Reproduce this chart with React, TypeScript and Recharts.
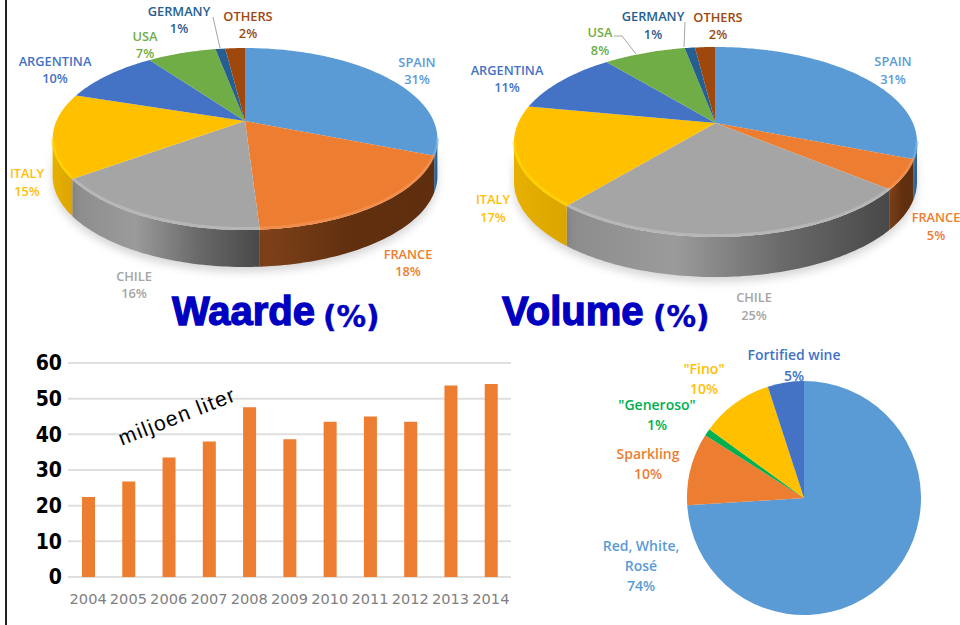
import React from "react";
import { BarChart, Bar, XAxis, YAxis, CartesianGrid, PieChart, Pie } from "recharts";

// ---------- data ----------
const countries = ["SPAIN", "FRANCE", "CHILE", "ITALY", "ARGENTINA", "USA", "GERMANY", "OTHERS"];
const waardeValues = [31, 18, 16, 15, 10, 7, 1, 2];
const volumeValues = [31, 5, 25, 17, 11, 8, 1, 2];

const years = ["2004", "2005", "2006", "2007", "2008", "2009", "2010", "2011", "2012", "2013", "2014"];
const litres = [22.4, 26.8, 33.5, 38, 47.6, 38.6, 43.5, 45, 43.5, 53.7, 54.1];

const wineTypes = ["Red, White,|Rosé", "Sparkling", "\"Generoso\"", "\"Fino\"", "Fortified wine"];
const wineValues = [74, 10, 1, 10, 5];

// ---------- styles and layout ----------
const countryColors = ["#5b9bd5", "#ed7d31", "#a5a5a5", "#ffc000", "#4472c4", "#70ad47", "#255e91", "#9e480e"];
const wineColors = ["#5b9bd5", "#ed7d31", "#00b050", "#ffc000", "#4472c4"];
const wineLabelColors = ["#5b9bd5", "#ed7d31", "#00b050", "#ffc000", "#4472c4"];
const rimColors: Record<string, string> = {
  SPAIN: "#79b4e6", FRANCE: "#f59a60", CHILE: "#c4c4c4", ITALY: "#ffdc00",
};
const wallStops: Record<string, string[]> = {
  SPAIN: ["#3f78aa", "#2a5d8a"],
  FRANCE: ["#80421a", "#62300f", "#5e2e0e"],
  CHILE: ["#8c8c8c", "#9b9b9b", "#6a6a6a", "#484848"],
  ITALY: ["#e8b000", "#dba500"],
};

const waardeLabelPos = [
  [417, 62, 79], [408, 254, 271], [134, 276, 293], [27, 173, 191],
  [55, 61, 78], [145, 36, 53], [179, 11, 28], [248, 16, 33],
];
const volumeLabelPos = [
  [893, 61, 79], [936, 217, 235], [754, 297, 315], [493, 199, 217],
  [507, 70, 87], [600, 32, 50], [653, 16, 34], [718, 17, 34],
];
const wineLabelPos = [
  [641, 545, 565, 585], [648, 453, 473], [657, 404, 424], [704, 368, 388], [794, 354, 375],
];
const waardeLeaders: Record<string, string> = { GERMANY: "213,17 220,48" };
const volumeLeaders: Record<string, string> = { USA: "614,36 622,36 636,54", GERMANY: "685,22 684,47" };

const FONT = "'Open Sans', sans-serif";
const RAD = Math.PI / 180;

type Persp = { rx: number; ry: number; k: number; depth: number; id: string };

const project = (cx: number, cy: number, p: Persp, angle: number) => {
  const u = Math.cos(angle * RAD);
  const v = -Math.sin(angle * RAD);
  const w = 1 - p.k * v;
  return { x: cx + (p.rx * u) / w, y: cy + (p.ry * v) / w, v };
};

const arcPoints = (cx: number, cy: number, p: Persp, start: number, end: number) => {
  const n = Math.max(2, Math.ceil(Math.abs(end - start)));
  const pts = [];
  for (let i = 0; i <= n; i++) pts.push(project(cx, cy, p, start + ((end - start) * i) / n));
  return pts;
};

const makeTop = (p: Persp) => (props: any) => {
  const { cx, cy, startAngle, endAngle, fill, name } = props;
  const pts = arcPoints(cx, cy, p, startAngle, endAngle);
  const d = `M${cx},${cy}` + pts.map((q) => `L${q.x.toFixed(1)},${q.y.toFixed(1)}`).join("") + "Z";
  const rim = pts.filter((q) => q.v >= p.k);
  const rimColor = rimColors[name];
  return (
    <g>
      <path d={d} fill={fill} />
      {rimColor && rim.length > 1 ? (
        <polyline
          points={rim.map((q) => `${q.x.toFixed(1)},${(q.y - 1.5).toFixed(1)}`).join(" ")}
          fill="none"
          stroke={rimColor}
          strokeWidth={3}
          strokeOpacity={0.55}
        />
      ) : null}
    </g>
  );
};

const makeWall = (p: Persp) => (props: any) => {
  const { cx, cy, startAngle, endAngle, name } = props;
  const pts = arcPoints(cx, cy, p, startAngle, endAngle).filter((q) => q.v >= p.k);
  if (pts.length < 2) return <g />;
  const stops = wallStops[name] || ["#555555", "#555555"];
  const id = `${p.id}-${name}`;
  const back = [...pts].reverse();
  const d =
    pts.map((q, i) => `${i ? "L" : "M"}${q.x.toFixed(1)},${q.y.toFixed(1)}`).join("") +
    back.map((q) => `L${q.x.toFixed(1)},${(q.y + p.depth).toFixed(1)}`).join("") +
    "Z";
  return (
    <g>
      <defs>
        <linearGradient id={id} x1="0" y1="0" x2="1" y2="0">
          {stops.map((c, i) => (
            <stop key={i} offset={i / (stops.length - 1)} stopColor={c} />
          ))}
        </linearGradient>
      </defs>
      <path d={d} fill={`url(#${id})`} style={{ filter: "drop-shadow(0 5px 4px rgba(0,0,0,0.16))" }} />
    </g>
  );
};

const makeLabel =
  (names: string[], values: number[], colors: string[], pos: number[][], size: number, leaders: Record<string, string> = {}) =>
  (props: any) => {
    const i = props.index;
    const lines = [...names[i].split("|"), `${values[i]}%`];
    const [x, ...ys] = pos[i];
    const leader = leaders[names[i]];
    return (
      <g>
        {leader ? <polyline points={leader} fill="none" stroke="#a6a6a6" strokeWidth={1} /> : null}
        {lines.map((t, j) => (
          <text
            key={j}
            x={x}
            y={ys[j]}
            textAnchor="middle"
            dominantBaseline="central"
            fontFamily={FONT}
            fontWeight={600}
            fontSize={size}
            fill={colors[i]}
          >
            {t}
          </text>
        ))}
      </g>
    );
  };

const toRows = (names: string[], values: number[], colors: string[]) =>
  names.map((name, i) => ({ name, value: values[i], fill: colors[i] }));

const barRows = years.map((year, i) => ({ year, litres: litres[i] }));

const Layer = ({ children }: { children: React.ReactNode }) => (
  <div style={{ position: "absolute", left: 0, top: 0, width: 960, height: 625 }}>{children}</div>
);

const Pie3D = ({
  values, cx, cy, persp, pos, leaders,
}: {
  values: number[]; cx: number; cy: number; persp: Persp; pos: number[][]; leaders: Record<string, string>;
}) => {
  const rows = toRows(countries, values, countryColors);
  return (
    <Layer>
      <PieChart width={960} height={625} margin={{ top: 0, right: 0, bottom: 0, left: 0 }}>
        <Pie
          data={rows} dataKey="value" nameKey="name" cx={cx} cy={cy} outerRadius={persp.rx}
          startAngle={90} endAngle={-270} stroke="none" isAnimationActive={false}
          shape={makeWall(persp)} label={false} labelLine={false}
        />
        <Pie
          data={rows} dataKey="value" nameKey="name" cx={cx} cy={cy} outerRadius={persp.rx}
          startAngle={90} endAngle={-270} stroke="none" isAnimationActive={false}
          shape={makeTop(persp)} labelLine={false}
          label={makeLabel(countries, values, countryColors, pos, 12.8, leaders)}
        />
      </PieChart>
    </Layer>
  );
};

export default function App() {
  return (
    <div style={{ position: "absolute", left: 0, top: 0, width: 960, height: 625, overflow: "hidden", background: "#fff" }}>
      <div style={{ position: "absolute", left: 4.5, top: 0, width: 2.5, height: 625, background: "#222" }} />

      <Pie3D values={waardeValues} cx={245} cy={121} persp={{ rx: 188.6, ry: 87.4, k: 0.198, depth: 37, id: "w" }} pos={waardeLabelPos} leaders={waardeLeaders} />
      <Pie3D values={volumeValues} cx={715.5} cy={123} persp={{ rx: 197.4, ry: 91.2, k: 0.2, depth: 40, id: "v" }} pos={volumeLabelPos} leaders={volumeLeaders} />

      <Layer>
        <PieChart width={960} height={625} margin={{ top: 0, right: 0, bottom: 0, left: 0 }}>
          <Pie
            data={toRows(wineTypes, wineValues, wineColors)} dataKey="value" nameKey="name"
            cx={804} cy={498} outerRadius={117} startAngle={90} endAngle={-270}
            stroke="none" isAnimationActive={false} labelLine={false}
            label={makeLabel(wineTypes, wineValues, wineLabelColors, wineLabelPos, 14)}
          />
        </PieChart>
      </Layer>

      <div style={{ position: "absolute", left: 0, top: 340 }}>
        <BarChart width={520} height={285} data={barRows} margin={{ top: 23, right: 9, bottom: 0, left: 0 }} barSize={13}>
          <CartesianGrid horizontal vertical={false} stroke="#dfdfdf" strokeWidth={2} />
          <XAxis
            dataKey="year" interval={0} height={48} axisLine={false} tickLine={false} tickSize={0} tickMargin={17}
            tick={{ fontFamily: "'DejaVu Sans'", fontSize: 14.6, fill: "#7f7f7f" }}
          />
          <YAxis
            domain={[0, 60]} ticks={[0, 10, 20, 30, 40, 50, 60]} width={68} axisLine={false} tickLine={false} tickSize={0} tickMargin={6}
            tick={{ fontFamily: "'DejaVu Sans Condensed', 'DejaVu Sans'", fontWeight: 700, fontSize: 21, fill: "#000" }}
          />
          <Bar dataKey="litres" fill="#ed7d31" isAnimationActive={false} />
        </BarChart>
      </div>

      <svg width={960} height={625} style={{ position: "absolute", left: 0, top: 0, pointerEvents: "none" }}>
        <text x={177} y={416} textAnchor="middle" dominantBaseline="central" fontFamily="'Liberation Sans'" fontSize={21} letterSpacing={1.4}
          transform="rotate(-21.5 177 416)" fill="#000">miljoen liter</text>
        <g fill="#0000c0" stroke="#0000c0">
          <text x={172} y={325} fontFamily="'Liberation Sans'" fontWeight={700} fontSize={40} strokeWidth={1.3}>Waarde</text>
          <text x={323} y={327} fontFamily="'DejaVu Sans'" fontWeight={700} fontSize={29.5} strokeWidth={0.4}>(%)</text>
          <text x={502} y={325} fontFamily="'Liberation Sans'" fontWeight={700} fontSize={40} strokeWidth={1.3}>Volume</text>
          <text x={653} y={327} fontFamily="'DejaVu Sans'" fontWeight={700} fontSize={29.5} strokeWidth={0.4}>(%)</text>
        </g>
      </svg>
    </div>
  );
}
